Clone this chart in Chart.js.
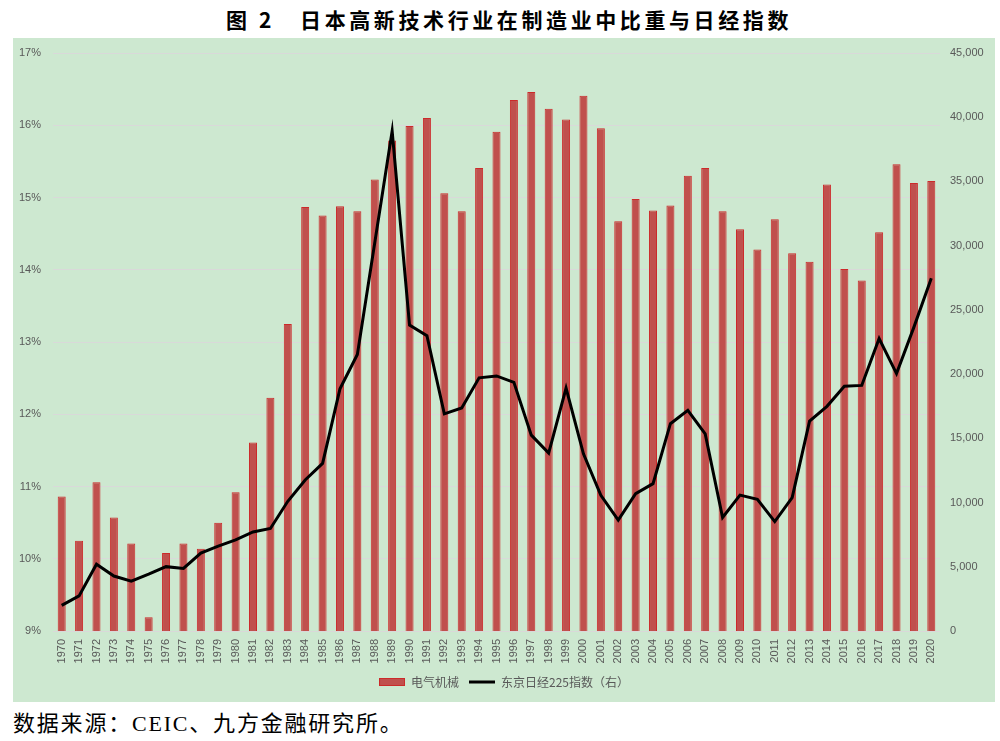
<!DOCTYPE html>
<html>
<head>
<meta charset="utf-8">
<script src="https://cdn.jsdelivr.net/npm/chart.js@4/dist/chart.umd.min.js"></script>
<style>
  body { margin: 0; width: 1000px; height: 741px; background: #fff; position: relative; overflow: hidden; }
  #title { position: absolute; left: 0; width: 1018px; top: 4px; text-align: center;
           font-family: "Noto Sans CJK SC"; font-weight: bold; font-size: 21px; letter-spacing: 3.6px; color: #000; }
  #panel { position: absolute; left: 13px; top: 38px; width: 982px; height: 664px; background: #cde8d0; }
  #panel canvas { display: block; }
  #source { position: absolute; left: 13px; top: 705px; font-family: "Liberation Serif", "Noto Sans CJK SC"; font-size: 22px; letter-spacing: 1.8px; color: #000; }
</style>
</head>
<body>
<div id="title">图 2&nbsp;&nbsp;&nbsp;日本高新技术行业在制造业中比重与日经指数</div>
<div id="panel"><canvas id="c"></canvas></div>
<div id="source">数据来源：CEIC、九方金融研究所。</div>
<script>
// categories
const years = ["1970","1971","1972","1973","1974","1975","1976","1977","1978","1979",
  "1980","1981","1982","1983","1984","1985","1986","1987","1988","1989",
  "1990","1991","1992","1993","1994","1995","1996","1997","1998","1999",
  "2000","2001","2002","2003","2004","2005","2006","2007","2008","2009",
  "2010","2011","2012","2013","2014","2015","2016","2017","2018","2019","2020"]

// 电气机械 share of manufacturing, %
const electricShare = [10.86,10.25,11.06,10.57,10.21,9.19,10.08,10.21,10.14,10.50,
  10.92,11.61,12.23,13.25,14.87,14.75,14.88,14.81,15.25,15.79,
  15.99,16.10,15.06,14.81,15.41,15.91,16.35,16.46,16.23,16.08,
  16.41,15.96,14.67,14.98,14.82,14.89,15.30,15.41,14.81,14.56,
  14.28,14.70,14.23,14.11,15.18,14.01,13.85,14.52,15.46,15.20,15.23]

// 东京日经225指数 (right axis)
const nikkei = [2000,2730,5200,4280,3880,4420,5010,4870,6070,6610,
  7090,7710,7980,10100,11760,13050,18850,21530,30230,38920,
  23820,22990,16910,17360,19710,19860,19360,15250,13850,18910,
  13790,10570,8630,10690,11470,16140,17180,15340,8840,10580,
  10260,8520,10390,16340,17490,19050,19120,22770,20040,23660,27460]

// axis ticks
const leftMin = 9, leftMax = 17, leftStep = 1
const rightMin = 0, rightMax = 45000, rightStep = 5000

const labelNames = ["电气机械", "东京日经225指数（右）"]

const tickFont = { family: "Liberation Sans", size: 11 }
const tickColor = "#595959"

// small red box for the bar legend item
let barIcon = document.createElement("canvas")
barIcon.width = 26
barIcon.height = 8
let bctx = barIcon.getContext("2d")
bctx.fillStyle = "#cc2a2a"
bctx.fillRect(0, 0, 26, 8)
bctx.fillStyle = "#c0504d"
bctx.fillRect(1, 1, 24, 6)

let canv = document.getElementById("c")
canv.width = 982
canv.height = 664

let chart = new Chart(canv, {
  type: 'bar',
  data: {
    labels: years,
    datasets: [{
      type: 'line',
      label: labelNames[1],
      data: nikkei,
      yAxisID: 'y1',
      borderColor: '#000',
      borderWidth: 3,
      pointRadius: 0,
      tension: 0,
      order: 0
    }, {
      type: 'bar',
      label: labelNames[0],
      data: electricShare,
      yAxisID: 'y',
      backgroundColor: '#c0504d',
      borderColor: '#cc2a2a',
      borderWidth: 1,
      barPercentage: 0.92,
      categoryPercentage: 0.5,
      order: 1
    }]
  },
  options: {
    responsive: false,
    animation: false,
    layout: { padding: { top: 15, left: 0, right: 0, bottom: 4 } },
    plugins: {
      tooltip: { enabled: false },
      legend: {
        position: 'bottom',
        labels: {
          usePointStyle: true,
          pointStyleWidth: 26,
          color: tickColor,
          font: { family: "Noto Sans CJK SC", size: 12 },
          padding: 10,
          generateLabels: () => [
            { text: labelNames[0], pointStyle: barIcon, fillStyle: '#c0504d', strokeStyle: '#cc2a2a', lineWidth: 0, datasetIndex: 1, hidden: false, fontColor: tickColor },
            { text: labelNames[1], pointStyle: 'line', fillStyle: '#000', strokeStyle: '#000', lineWidth: 3, datasetIndex: 0, hidden: false, fontColor: tickColor }
          ]
        }
      }
    },
    scales: {
      x: {
        grid: { display: false, drawTicks: false },
        border: { display: false },
        ticks: { color: tickColor, font: tickFont, minRotation: 90, maxRotation: 90, padding: 8, autoSkip: false },
        afterFit: s => { s.height = 35 }
      },
      y: {
        position: 'left',
        min: leftMin, max: leftMax,
        grid: { color: '#d9d9d9', lineWidth: 1, drawTicks: true, tickLength: 9, tickColor: 'transparent' },
        border: { display: false },
        ticks: { stepSize: leftStep, color: tickColor, font: tickFont, padding: 3, callback: v => v + '%' },
        afterFit: s => { s.width = 40 }
      },
      y1: {
        position: 'right',
        min: rightMin, max: rightMax,
        grid: { display: false, drawTicks: true, tickLength: 7, tickColor: 'transparent' },
        border: { display: false },
        ticks: { stepSize: rightStep, color: tickColor, font: tickFont, padding: 3, callback: v => v.toLocaleString('en-US') },
        afterFit: s => { s.width = 55 }
      }
    }
  }
})
</script>
</body>
</html>
